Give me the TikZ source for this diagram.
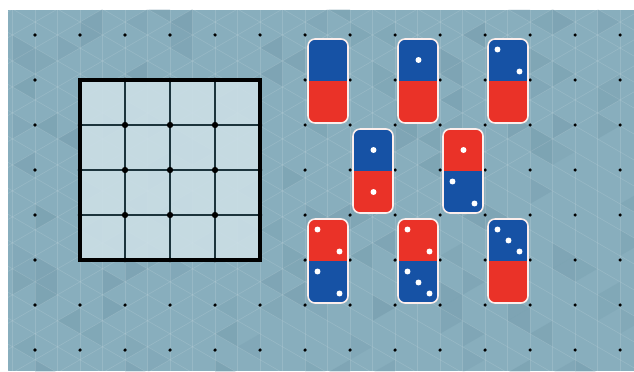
\documentclass[tikz,border=0pt]{standalone}

\definecolor{bgteal}{RGB}{136,174,189}
\definecolor{tridark}{RGB}{92,132,150}
\definecolor{boardfill}{RGB}{204,223,230}
\definecolor{gridline}{RGB}{28,52,60}
\definecolor{dblue}{RGB}{22,82,165}
\definecolor{dred}{RGB}{234,50,40}
\definecolor{dedge}{RGB}{252,238,236}

\tikzset{
  latline/.style={white, opacity=0.13, line width=0.35pt},
  bgdot/.style={fill=black},
  boardline/.style={gridline, line width=1pt},
  dominoedge/.style={dedge, line width=0.9pt, rounded corners=4pt},
  pip/.style={fill=white},
}

% pips of one half: #1 = y of the half's centre, #2 = number of pips
\newcommand{\halfpips}[2]{%
  \ifcase#2\relax
  \or \fill[pip] (0.5,#1) circle (1.7pt);
  \or \fill[pip] (-10.5,{#1-10.5}) circle (1.7pt);
      \fill[pip] (11.5,{#1+11.5}) circle (1.7pt);
  \or \fill[pip] (-10.5,{#1-10.5}) circle (1.7pt);
      \fill[pip] (0.5,{#1+0.5}) circle (1.7pt);
      \fill[pip] (11.5,{#1+11.5}) circle (1.7pt);
  \fi}

% domino: centre x, centre y, top colour, bottom colour, top pips, bottom pips
\newcommand{\domino}[6]{%
  \begin{scope}[shift={(#1,#2)}]
    \begin{scope}
      \clip[rounded corners=4pt] (-20,-42) rectangle (20,42);
      \fill[#3] (-21,-43) rectangle (21,0);
      \fill[#4] (-21,0) rectangle (21,43);
    \end{scope}
    \draw[dominoedge] (-20,-42) rectangle (20,42);
    \halfpips{-21}{#5}
    \halfpips{21}{#6}
  \end{scope}}

\begin{document}
\begin{tikzpicture}[x=0.02cm, y=-0.02cm]
    \useasboundingbox[fill=white] (0,0) rectangle (634,371);

    % background with triangle pattern
    \fill[bgteal] (8,10) rectangle (634,371);
    \begin{scope}
      \clip (8,10) rectangle (634,371);
      \pgfmathsetseed{17}
      \foreach \k in {0,...,27} {
        \pgfmathsetmacro\xa{12.5+22.5*\k}
        \pgfmathsetmacro\xb{\xa+22.5}
        \foreach \j in {-2,...,13} {
          \pgfmathsetmacro\ya{35+25.98*\j+mod(\k,2)*12.99}
          \pgfmathsetmacro\ra{rnd}
          \pgfmathsetmacro\rb{rnd}
          \pgfmathsetmacro\oa{0.10+0.14*rnd}
          \ifdim\ra pt<0.2pt
            \fill[tridark, opacity=\oa] (\xa,\ya) -- (\xa,\ya+25.98) -- (\xb,\ya+12.99) -- cycle;
          \fi
          \ifdim\rb pt<0.2pt
            \fill[tridark, opacity=\oa] (\xb,\ya+12.99) -- (\xb,\ya+38.97) -- (\xa,\ya+25.98) -- cycle;
          \fi
        }
      }
      \foreach \k in {0,...,28}
        \draw[latline] ({12.5+22.5*\k},10) -- ++(0,361);
      \foreach \j in {-26,...,16} {
        \draw[latline] (0,{35+25.98*\j-7.22}) -- ++(634,366.04);
        \draw[latline] (0,{35+25.98*\j+7.22}) -- ++(634,-366.04);
      }
    \end{scope}

    % dot grid
    \foreach \i in {0,...,13}
      \foreach \j in {0,...,7}
        \fill[bgdot] ({35+45*\i},{35+45*\j}) circle (1pt);

    % 4x4 board
    \fill[boardfill, opacity=0.9] (80,80) rectangle (260,260);
    \foreach \t in {125,170,215} {
      \draw[boardline] (\t,80) -- (\t,260);
      \draw[boardline] (80,\t) -- (260,\t);
    }
    \draw[line width=1.8pt] (80,80) rectangle (260,260);
    \foreach \a in {125,170,215}
      \foreach \b in {125,170,215}
        \fill (\a,\b) circle (1.8pt);
    \foreach \t in {125,170,215} {
      \fill (\t,80) circle (1.3pt);
      \fill (\t,260) circle (1.3pt);
      \fill (80,\t) circle (1.3pt);
      \fill (260,\t) circle (1.3pt);
    }

    % dominoes
    \domino{328}{81}{dblue}{dred}{0}{0}
    \domino{418}{81}{dblue}{dred}{1}{0}
    \domino{508}{81}{dblue}{dred}{2}{0}
    \domino{373}{171}{dblue}{dred}{1}{1}
    \domino{463}{171}{dred}{dblue}{1}{2}
    \domino{328}{261}{dred}{dblue}{2}{2}
    \domino{418}{261}{dred}{dblue}{2}{3}
    \domino{508}{261}{dblue}{dred}{3}{0}
\end{tikzpicture}
\end{document}
